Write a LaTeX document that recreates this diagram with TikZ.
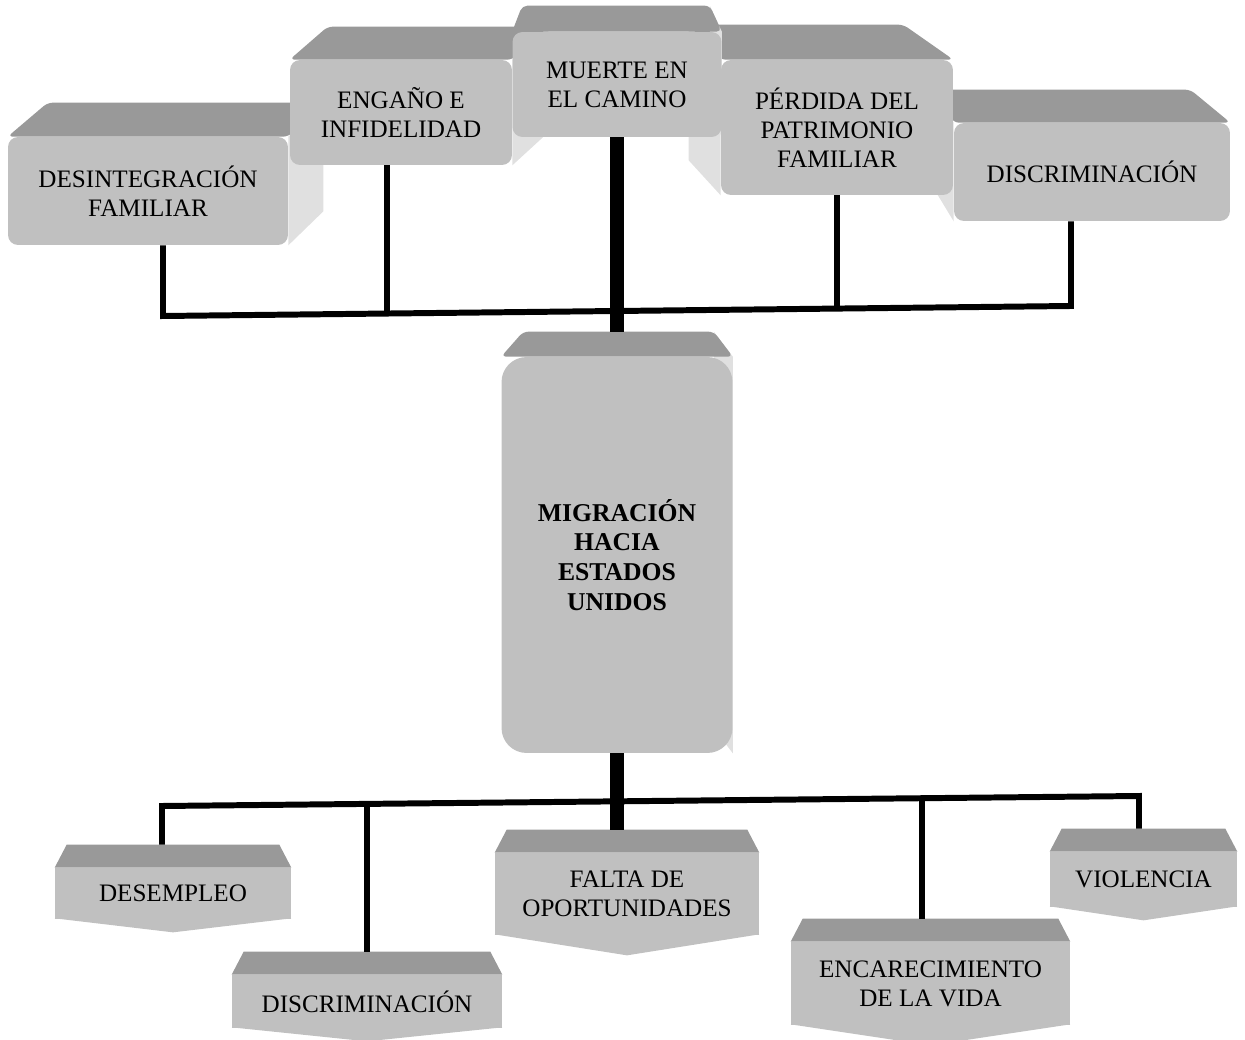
\documentclass[tikz,border=0pt]{standalone}
\usepackage{fontspec}
\setmainfont{Liberation Serif}
\usetikzlibrary{calc,backgrounds}
\definecolor{facegray}{RGB}{192,192,192}
\definecolor{topgray}{RGB}{153,153,153}
\definecolor{sidegray}{RGB}{224,224,224}
\tikzset{
  box/.style={fill=facegray, rounded corners=0.2cm, align=center, inner sep=0pt,
    font=\fontsize{14.3}{16.5}\selectfont},
  cause/.style={fill=facegray, align=center, inner sep=0pt,
    font=\fontsize{14.3}{16.5}\selectfont},
  link/.style={line width=3.4pt},
  trunk/.style={line width=8.5pt}
}
\begin{document}
\begin{tikzpicture}[x=0.02cm,y=-0.02cm]
  \useasboundingbox (0,0) rectangle (1245,1040);
  \node[box, minimum width=5.6cm, minimum height=2.16cm] (desint) at (148,191) {DESINTEGRACIÓN\\FAMILIAR};
  \node[box, minimum width=4.44cm, minimum height=2.1cm] (engano) at (401,112.5) {ENGAÑO E\\INFIDELIDAD};
  \node[box, minimum width=5.52cm, minimum height=1.96cm] (discrim) at (1092,172) {DISCRIMINACIÓN};
  \node[box, minimum width=4.64cm, minimum height=2.7cm] (perdida) at (837,127.5) {PÉRDIDA DEL\\PATRIMONIO\\FAMILIAR};
  \node[box, minimum width=4.18cm, minimum height=2.1cm] (muerte) at (617,84.5) {MUERTE EN\\EL CAMINO};
  \node[box, rounded corners=0.5cm, minimum width=4.62cm, minimum height=7.92cm,
    font=\fontsize{14.6}{17}\selectfont\bfseries] (migra) at (617,555) {MIGRACIÓN\\HACIA\\ESTADOS\\UNIDOS};

  \node[cause, minimum width=4.72cm, minimum height=1.02cm] (dsm) at (173,893.5) {DESEMPLEO};
  \node[cause, minimum width=5.4cm, minimum height=1.06cm] (dis2) at (367,1001.5) {DISCRIMINACIÓN};
  \node[cause, minimum width=5.28cm, minimum height=1.64cm] (falta) at (627,894) {FALTA DE\\OPORTUNIDADES};
  \node[cause, minimum width=5.58cm, minimum height=1.66cm] (enc) at (930.5,983.5) {ENCARECIMIENTO\\DE LA VIDA};
  \node[cause, minimum width=3.74cm, minimum height=1.1cm] (vio) at (1143.5,879.5) {VIOLENCIA};

  \begin{scope}[on background layer]
    \foreach \bx/\lx/\rx/\up/\sd/\sx in {desint/40/35/34/east/35, engano/38/36/33/east/36,
        discrim/-20/-40/33/west/-20, perdida/-32/-50/35/west/-32,
        muerte/10/-12/26/east/-12, migra/22/-19/25/east/-19}{
      \fill[sidegray] (\bx.north \sd) -- ++(\sx,-\up) -- ($(\bx.south \sd)+(\sx,-\up)$) -- (\bx.south \sd) -- cycle;
      \fill[topgray, rounded corners=3pt] (\bx.north west) -- ++(\lx,-\up) -- ($(\bx.north east)+(\rx,-\up)$) -- (\bx.north east) -- cycle;
    }
    \foreach \bx/\dp in {dsm/13, dis2/13, falta/20, enc/20, vio/13}{
      \fill[facegray] ($(\bx.south west)+(0,-1)$) -- ($(\bx.south)+(0,\dp)$) -- ($(\bx.south east)+(0,-1)$) -- cycle;
      \fill[topgray] (\bx.north west) -- ++(12,-23) -- ($(\bx.north east)+(-12,-23)$) -- (\bx.north east) -- cycle;
      \coordinate (\bx-t) at ($(\bx.north)+(0,-23)$);
    }
  \end{scope}

  \coordinate (t1) at (163,316);
  \coordinate (t2) at (387,313.5);
  \coordinate (t4) at (837,308.6);
  \coordinate (t5) at (1071,306);
  \coordinate (b1) at (162,806);
  \coordinate (b2) at (367,803.9);
  \coordinate (b4) at (922,798.2);
  \coordinate (b5) at (1139,796);
  \coordinate (mtop) at ($(migra.north)+(0,-25)$);

  \begin{scope}[link]
    \draw (desint.south -| t1) -- (t1) -- (t5) -- (discrim.south -| t5);
    \draw (engano.south -| t2) -- (t2);
    \draw (perdida.south -| t4) -- (t4);
    \draw (b1 |- dsm-t) -- (b1) -- (b5) -- (b5 |- vio-t);
    \draw (b2 |- dis2-t) -- (b2);
    \draw (b4 |- enc-t) -- (b4);
  \end{scope}
  \draw[trunk] (muerte.south) -- (mtop);
  \draw[trunk] (migra.south) -- (migra.south |- falta-t);
\end{tikzpicture}
\end{document}
